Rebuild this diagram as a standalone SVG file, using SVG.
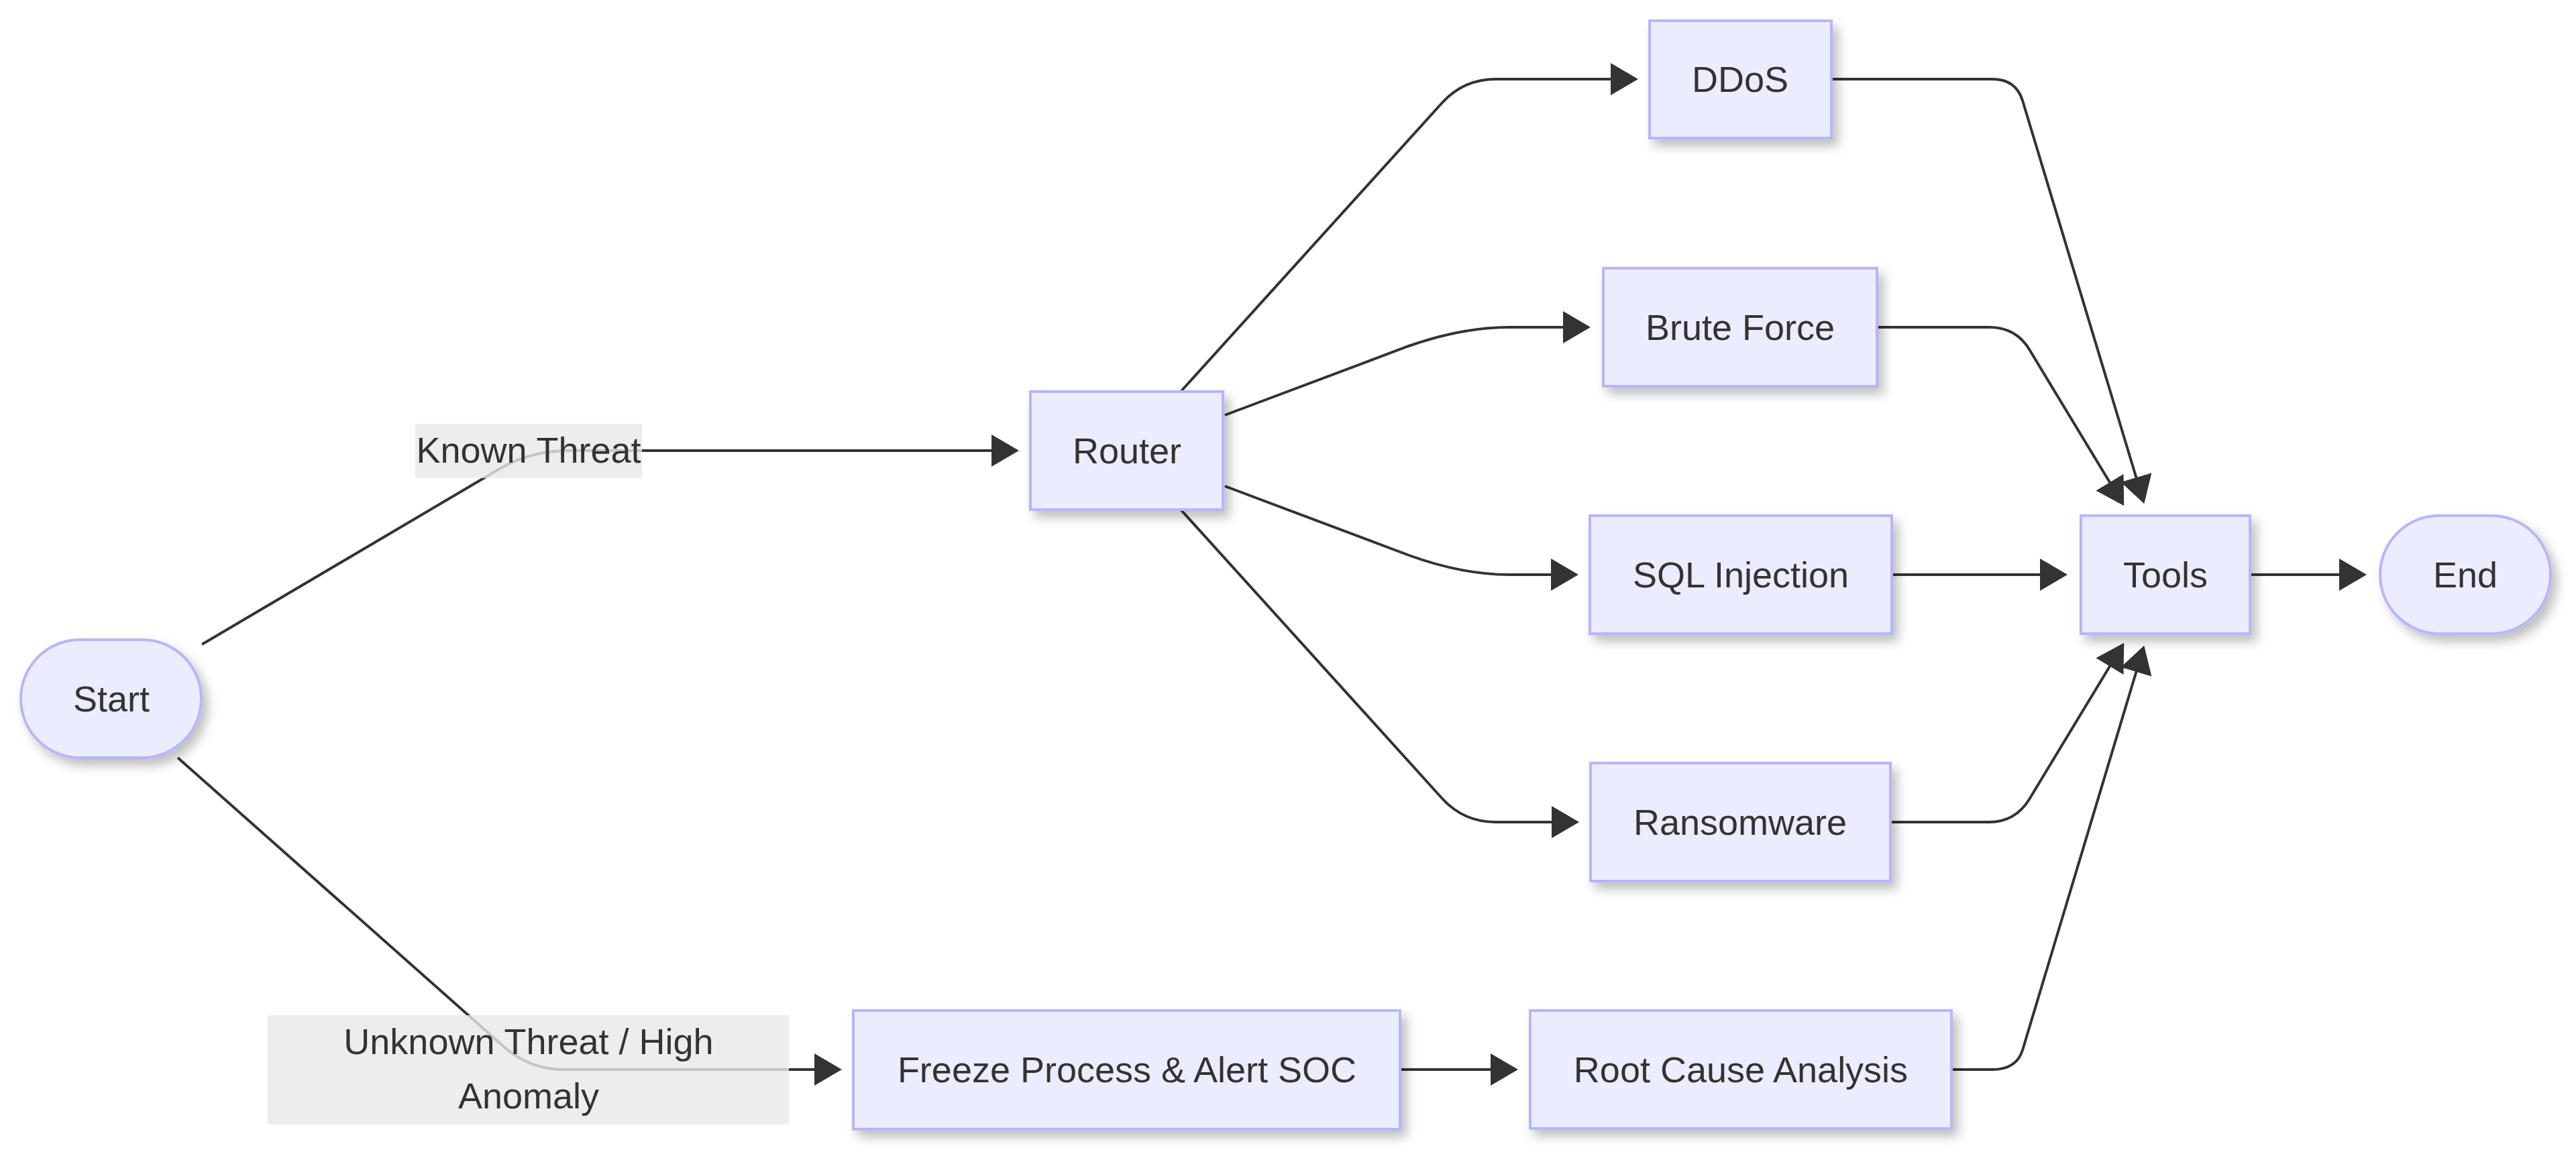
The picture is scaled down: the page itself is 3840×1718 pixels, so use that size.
<svg xmlns="http://www.w3.org/2000/svg" width="3840" height="1718" viewBox="0 0 3840 1718">
<defs>
<filter id="sh" x="-20%" y="-20%" width="150%" height="160%">
<feDropShadow dx="8" dy="10" stdDeviation="8" flood-color="#000" flood-opacity="0.25"/>
</filter>
<marker id="arr" viewBox="0 0 41 48" refX="2" refY="24" markerWidth="41" markerHeight="48" markerUnits="userSpaceOnUse" orient="auto">
<path d="M0,0 L41,24 L0,48 z" fill="#333"/>
</marker>
<style>
.node rect{fill:#ECECFF;stroke:#b6b6fb;stroke-width:4;filter:url(#sh)}
.t{font-family:"Liberation Sans",Arial,sans-serif;font-size:54px;fill:#333;text-anchor:middle}
.e{fill:none;stroke:#333;stroke-width:4;marker-end:url(#arr)}
.lbl{fill:rgba(232,232,232,0.8)}
</style>
</defs>
<rect width="3840" height="1718" fill="#fff"/>
<g id="connectors">
<path class="e" d="M301,961 L745,699 Q791,672 850,672 L1480,672"/>
<path class="e" d="M265,1130 L750,1560 Q789,1595 840,1595 L1216,1595"/>
<path class="e" d="M1761,583 L2150,153 Q2182,118 2230,118 L2403,118"/>
<path class="e" d="M1826,619 L2100,516 Q2180,488 2250,488 L2332,488"/>
<path class="e" d="M1826,725 L2100,828 Q2180,857 2250,857 L2314,857"/>
<path class="e" d="M1761,761 L2150,1191 Q2182,1226 2230,1226 L2315,1226"/>
<path class="e" d="M2730,118 L2970,118 Q3005,118 3015,150 L3185,714"/>
<path class="e" d="M2798,488 L2965,488 Q3005,488 3025,521 L3146,721"/>
<path class="e" d="M2820,857 L3043,857"/>
<path class="e" d="M2818,1226 L2965,1226 Q3004,1226 3025,1192 L3146,992"/>
<path class="e" d="M2909,1595 L2970,1595 Q3006,1595 3015,1566 L3185,1000"/>
<path class="e" d="M3354,857 L3489,857"/>
<path class="e" d="M2087,1595 L2224,1595"/>
<g id="label-known">
<rect class="lbl" x="619" y="632" width="338" height="81"/>
<text class="t" x="788" y="690">Known Threat</text>
</g>
<g id="label-unknown">
<rect class="lbl" x="399" y="1514" width="777" height="163"/>
<text class="t" x="788" y="1572">Unknown Threat / High</text>
<text class="t" x="788" y="1653">Anomaly</text>
</g>
</g>
<g id="start" class="node"><rect x="31" y="954" width="269" height="176" rx="88"/><text class="t" x="166" y="1061">Start</text></g>
<g id="router" class="node"><rect x="1536" y="584" width="287" height="176"/><text class="t" x="1680" y="691">Router</text></g>
<g id="ddos" class="node"><rect x="2459" y="31" width="271" height="175"/><text class="t" x="2594" y="137">DDoS</text></g>
<g id="bruteforce" class="node"><rect x="2390" y="400" width="408" height="176"/><text class="t" x="2594" y="507">Brute Force</text></g>
<g id="sqlinjection" class="node"><rect x="2370" y="769" width="450" height="176"/><text class="t" x="2595" y="876">SQL Injection</text></g>
<g id="ransomware" class="node"><rect x="2371" y="1138" width="447" height="176"/><text class="t" x="2594" y="1245">Ransomware</text></g>
<g id="tools" class="node"><rect x="3102" y="769" width="252" height="176"/><text class="t" x="3228" y="876">Tools</text></g>
<g id="end" class="node"><rect x="3548" y="769" width="254" height="176" rx="88"/><text class="t" x="3675" y="876">End</text></g>
<g id="freeze" class="node"><rect x="1272" y="1507" width="815" height="177"/><text class="t" x="1680" y="1614">Freeze Process &amp; Alert SOC</text></g>
<g id="rca" class="node"><rect x="2281" y="1507" width="628" height="176"/><text class="t" x="2595" y="1614">Root Cause Analysis</text></g>
</svg>
